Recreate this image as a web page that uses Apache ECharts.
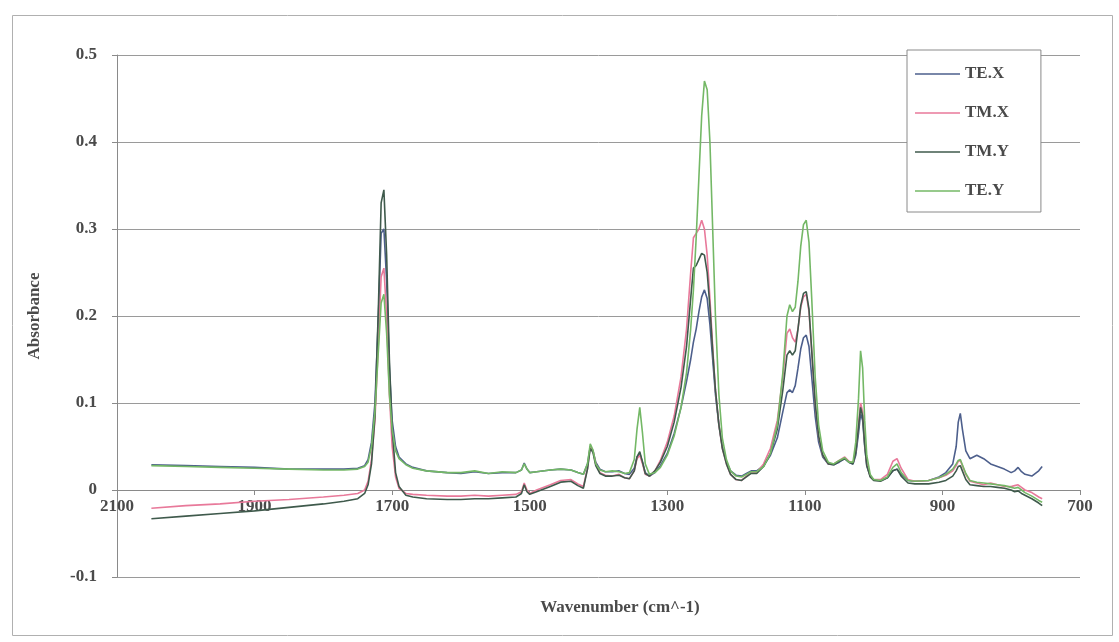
<!DOCTYPE html>
<html>
<head>
<meta charset="utf-8">
<script src="https://cdn.jsdelivr.net/npm/echarts@6/dist/echarts.min.js"></script>
<style>
  html, body { margin: 0; padding: 0; background: #fff; }
  #main { width: 1119px; height: 642px; }
</style>
</head>
<body>
<div id="main"></div>
<script>
// wavenumber (cm^-1)
const wavenumbers = [
  2050, 2000, 1950, 1900, 1850, 1800, 1770, 1750, 1740, 1735, 1730, 1725, 1720, 1716, 1712, 1708, 1704, 1700, 1695, 1690,
  1680, 1670, 1650, 1620, 1600, 1580, 1560, 1540, 1520, 1512, 1508, 1504, 1500, 1490, 1470, 1455, 1440, 1430, 1422, 1416,
  1412, 1408, 1404, 1398, 1390, 1380, 1370, 1362, 1355, 1348, 1344, 1340, 1336, 1332, 1326, 1318, 1310, 1300, 1290, 1280,
  1272, 1266, 1262, 1258, 1254, 1250, 1246, 1242, 1238, 1234, 1230, 1225, 1220, 1214, 1208, 1200, 1192, 1185, 1178, 1170,
  1160, 1150, 1140, 1132, 1126, 1122, 1118, 1114, 1110, 1106, 1102, 1098, 1094, 1090, 1085, 1080, 1074, 1066, 1058, 1050,
  1042, 1036, 1030, 1026, 1022, 1019, 1016, 1013, 1010, 1005, 1000, 990, 980, 972, 966, 960, 950, 940, 920, 905,
  895, 885, 880, 877, 874, 871, 866, 860, 850, 840, 830, 820, 810, 800, 795, 790, 785, 780, 770, 760,
  755
];

const teX = [
  0.029, 0.028, 0.027, 0.026, 0.024, 0.024, 0.024, 0.025, 0.028, 0.035, 0.055, 0.10, 0.20, 0.295, 0.30, 0.24, 0.14, 0.08, 0.05, 0.038,
  0.030, 0.026, 0.022, 0.020, 0.019, 0.021, 0.019, 0.020, 0.020, 0.023, 0.031, 0.024, 0.020, 0.021, 0.023, 0.024, 0.023, 0.020, 0.018, 0.030,
  0.050, 0.045, 0.032, 0.024, 0.021, 0.021, 0.022, 0.019, 0.018, 0.025, 0.038, 0.042, 0.032, 0.020, 0.016, 0.020, 0.028, 0.042, 0.065, 0.095,
  0.125, 0.150, 0.170, 0.185, 0.205, 0.222, 0.230, 0.220, 0.190, 0.150, 0.110, 0.075, 0.050, 0.032, 0.022, 0.017, 0.016, 0.019, 0.022, 0.022,
  0.028, 0.040, 0.060, 0.090, 0.112, 0.115, 0.112, 0.120, 0.140, 0.162, 0.175, 0.178, 0.165, 0.130, 0.085, 0.055, 0.038, 0.030, 0.029, 0.032,
  0.036, 0.032, 0.030, 0.040, 0.065, 0.088, 0.080, 0.050, 0.028, 0.016, 0.012, 0.011, 0.014, 0.022, 0.024, 0.018, 0.011, 0.010, 0.011, 0.015,
  0.020, 0.030, 0.050, 0.078, 0.088, 0.070, 0.045, 0.036, 0.040, 0.036, 0.030, 0.027, 0.024, 0.020, 0.022, 0.026, 0.021, 0.018, 0.016, 0.022,
  0.027
];

const tmX = [
  -0.021, -0.018, -0.016, -0.013, -0.011, -0.008, -0.006, -0.004, 0.000, 0.010, 0.035, 0.08, 0.17, 0.245, 0.255, 0.20, 0.11, 0.05, 0.015, 0.002,
  -0.004, -0.005, -0.006, -0.007, -0.007, -0.006, -0.007, -0.006, -0.005, -0.002, 0.008, 0.000, -0.004, 0.000, 0.006, 0.011, 0.012, 0.007, 0.004, 0.025,
  0.050, 0.045, 0.030, 0.020, 0.017, 0.016, 0.018, 0.014, 0.013, 0.022, 0.036, 0.040, 0.030, 0.018, 0.016, 0.022, 0.034, 0.055, 0.085, 0.130,
  0.185, 0.250, 0.290, 0.295, 0.300, 0.310, 0.300, 0.270, 0.220, 0.165, 0.115, 0.075, 0.048, 0.030, 0.018, 0.012, 0.011, 0.016, 0.020, 0.020,
  0.030, 0.048, 0.080, 0.130, 0.180, 0.185, 0.175, 0.170, 0.185, 0.210, 0.222, 0.225, 0.205, 0.160, 0.100, 0.062, 0.040, 0.030, 0.030, 0.034,
  0.038, 0.033, 0.031, 0.045, 0.075, 0.100, 0.090, 0.055, 0.030, 0.016, 0.012, 0.012, 0.018, 0.033, 0.036, 0.025, 0.012, 0.010, 0.011, 0.014,
  0.017, 0.022, 0.028, 0.033, 0.034, 0.028, 0.018, 0.010, 0.008, 0.006, 0.008, 0.006, 0.004, 0.004, 0.005, 0.006, 0.003, 0.000, -0.003, -0.008,
  -0.010
];

const tmY = [
  -0.033, -0.030, -0.027, -0.024, -0.020, -0.016, -0.013, -0.010, -0.004, 0.006, 0.030, 0.085, 0.21, 0.33, 0.345, 0.27, 0.15, 0.07, 0.02, 0.004,
  -0.006, -0.008, -0.010, -0.011, -0.011, -0.010, -0.010, -0.009, -0.008, -0.004, 0.006, -0.002, -0.005, -0.002, 0.004, 0.009, 0.010, 0.005, 0.002, 0.024,
  0.048, 0.043, 0.028, 0.019, 0.016, 0.016, 0.017, 0.014, 0.013, 0.022, 0.038, 0.044, 0.032, 0.019, 0.016, 0.022, 0.032, 0.050, 0.078, 0.118,
  0.165, 0.220, 0.255, 0.258, 0.265, 0.272, 0.270, 0.250, 0.210, 0.160, 0.115, 0.075, 0.048, 0.030, 0.018, 0.012, 0.011, 0.015, 0.019, 0.019,
  0.027, 0.042, 0.070, 0.115, 0.155, 0.160, 0.155, 0.160, 0.185, 0.212, 0.226, 0.228, 0.208, 0.160, 0.100, 0.062, 0.040, 0.030, 0.029, 0.033,
  0.036, 0.032, 0.030, 0.043, 0.072, 0.095, 0.085, 0.052, 0.028, 0.015, 0.011, 0.010, 0.014, 0.022, 0.024, 0.016, 0.008, 0.007, 0.007, 0.009,
  0.011, 0.016, 0.022, 0.027, 0.028, 0.022, 0.012, 0.006, 0.005, 0.004, 0.004, 0.003, 0.002, 0.000, -0.002, -0.001, -0.004, -0.006, -0.010, -0.015,
  -0.018
];

const teY = [
  0.028, 0.027, 0.026, 0.025, 0.024, 0.023, 0.023, 0.024, 0.027, 0.032, 0.050, 0.09, 0.16, 0.215, 0.225, 0.18, 0.11, 0.07, 0.045, 0.036,
  0.029, 0.025, 0.022, 0.020, 0.020, 0.022, 0.019, 0.021, 0.020, 0.023, 0.030, 0.024, 0.020, 0.021, 0.023, 0.024, 0.023, 0.020, 0.018, 0.030,
  0.053, 0.046, 0.030, 0.023, 0.021, 0.022, 0.021, 0.019, 0.020, 0.035, 0.070, 0.095, 0.065, 0.030, 0.018, 0.020, 0.026, 0.040, 0.062, 0.095,
  0.135, 0.185, 0.230, 0.290, 0.360, 0.430, 0.470, 0.460, 0.400, 0.300, 0.200, 0.110, 0.060, 0.035, 0.022, 0.016, 0.015, 0.018, 0.021, 0.021,
  0.027, 0.042, 0.075, 0.135, 0.200, 0.213, 0.205, 0.210, 0.240, 0.280, 0.305, 0.310, 0.285, 0.220, 0.130, 0.075, 0.045, 0.032, 0.030, 0.034,
  0.037, 0.032, 0.032, 0.055, 0.105, 0.160, 0.140, 0.080, 0.040, 0.018, 0.012, 0.011, 0.015, 0.026, 0.030, 0.020, 0.011, 0.010, 0.011, 0.014,
  0.018, 0.024, 0.030, 0.034, 0.035, 0.029, 0.019, 0.011, 0.009, 0.008, 0.007, 0.006, 0.005, 0.003, 0.002, 0.003, 0.000, -0.003, -0.007, -0.012,
  -0.014
];

const seriesNames = ['TE.X', 'TM.X', 'TM.Y', 'TE.Y'];
const seriesValues = [teX, tmX, tmY, teY];
const seriesColors = ['#4d5f8c', '#e8799a', '#3f5a4c', '#74b866'];

const xTicks = { min: 700, max: 2100, interval: 200 };
const yTicks = { min: -0.1, max: 0.5, interval: 0.1 };

const fontFamily = '"Liberation Serif", "DejaVu Serif", serif';
const textColor = '#4a4a4a';

// plot box, the x axis sits on y = 0
const gridTop = 55;
const gridBottom = 65;
const plotHeight = 642 - gridTop - gridBottom;
const zeroOffset = -plotHeight * (0 - yTicks.min) / (yTicks.max - yTicks.min);

const chart = echarts.init(document.getElementById('main'), null, { renderer: 'canvas' });

const option = {
  backgroundColor: '#ffffff',
  animation: false,
  grid: { left: 117, right: 39, top: gridTop, bottom: gridBottom },
  legend: {
    data: seriesNames,
    orient: 'vertical',
    left: 907,
    top: 50,
    width: 132,
    padding: [15, 32, 12, 8],
    itemGap: 21,
    icon: 'rect',
    itemWidth: 45,
    itemHeight: 1.6,
    backgroundColor: '#ffffff',
    borderColor: '#8a8a8a',
    borderWidth: 1,
    textStyle: { fontFamily: fontFamily, fontWeight: 'bold', fontSize: 17, lineHeight: 18, color: textColor }
  },
  xAxis: {
    type: 'value',
    inverse: true,
    min: xTicks.min,
    max: xTicks.max,
    interval: xTicks.interval,
    offset: zeroOffset,
    axisLine: { onZero: false, lineStyle: { color: '#8a8a8a', width: 1 } },
    axisTick: { show: true, length: 5, lineStyle: { color: '#8a8a8a' } },
    axisLabel: {
      margin: 8,
      fontFamily: fontFamily, fontWeight: 'bold', fontSize: 17, color: textColor,
      formatter: v => String(v)
    },
    splitLine: { show: false }
  },
  yAxis: {
    type: 'value',
    min: yTicks.min,
    max: yTicks.max,
    interval: yTicks.interval,
    name: 'Absorbance',
    nameLocation: 'middle',
    nameGap: 74,
    nameTextStyle: { fontFamily: fontFamily, fontWeight: 'bold', fontSize: 17, color: textColor },
    axisLine: { show: true, onZero: false, lineStyle: { color: '#8a8a8a', width: 1 } },
    axisTick: { show: true, length: 5, lineStyle: { color: '#8a8a8a' } },
    axisLabel: {
      margin: 20,
      fontFamily: fontFamily, fontWeight: 'bold', fontSize: 17, color: textColor,
      formatter: v => (Math.abs(v) < 1e-9 ? '0' : v.toFixed(1))
    },
    splitLine: { show: true, lineStyle: { color: '#9a9a9a', width: 1 } }
  },
  graphic: [
    {
      type: 'rect',
      left: 10, top: 13,
      shape: { width: 1100, height: 620 },
      style: { fill: 'none', stroke: '#b0b0b0', lineWidth: 1 },
      z: -1
    },
    {
      type: 'text',
      x: 620, y: 608,
      style: {
        text: 'Wavenumber (cm^-1)',
        align: 'center', verticalAlign: 'middle',
        font: 'bold 17px "Liberation Serif", serif',
        fill: textColor
      }
    }
  ],
  series: seriesNames.map((name, i) => ({
    name: name,
    type: 'line',
    symbol: 'none',
    smooth: false,
    data: wavenumbers.map((w, j) => [w, seriesValues[i][j]]),
    lineStyle: { color: seriesColors[i], width: 1.6 },
    itemStyle: { color: seriesColors[i] }
  }))
};

chart.setOption(option);
</script>
</body>
</html>
